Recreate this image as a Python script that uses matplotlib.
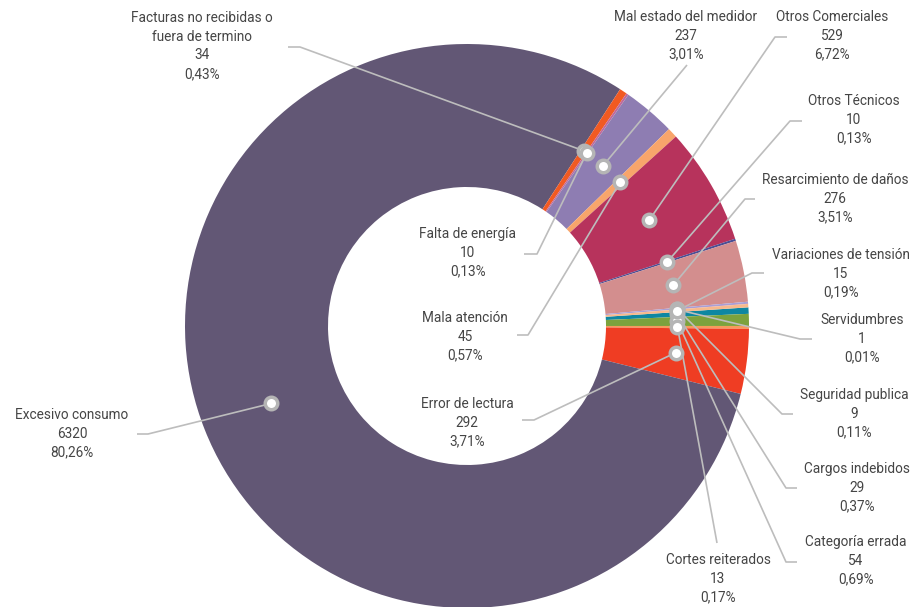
import numpy as np
import matplotlib
matplotlib.use("Agg")
import matplotlib.pyplot as plt

# datos (orden del grafico, sentido horario)
categorias = ["Cargos indebidos", "Categoría errada", "Cortes reiterados", "Error de lectura",
              "Excesivo consumo", "Facturas no recibidas o\nfuera de termino", "Falta de energía",
              "Mal estado del medidor", "Mala atención", "Otros Comerciales", "Otros Técnicos",
              "Resarcimiento de daños", "Seguridad publica", "Servidumbres", "Variaciones de tensión"]
cantidades = [29, 54, 13, 292, 6320, 34, 10, 237, 45, 529, 10, 276, 9, 1, 15]
porcentajes = ["0,37%", "0,69%", "0,17%", "3,71%", "80,26%", "0,43%", "0,13%", "3,01%",
               "0,57%", "6,72%", "0,13%", "3,51%", "0,11%", "0,01%", "0,19%"]
colores = ["#0e87a2", "#7ca23d", "#f79a5c", "#ef3d23", "#625775", "#f15a22", "#c06a9a",
           "#8e7db2", "#f8a56b", "#b7335c", "#4b4e94", "#d38e8e", "#a99fd6", "#e07070", "#f7b98c"]

# posicion de etiquetas (en pixeles, y hacia abajo): centro x, y primera linea,
# extremo de la linea junto al texto, codo
etiquetas = [
    (857, 469, (797, 488), (786, 488)),
    (856, 542, (797, 562), (786, 562)),
    (718, 560, (717, 543), (717, 543)),
    (467, 404, (522, 420), (534, 420)),
    (72, 415, (137, 434), (148, 434)),
    (202, 18, (288, 47), (300, 47)),
    (468, 234, (524, 254), (537, 254)),
    (686, 17, (687, 65), (687, 65)),
    (465, 318, (517, 335), (528, 335)),
    (832, 17, (787, 37), (775, 37)),
    (854, 101, (802, 121), (790, 121)),
    (835, 180, (755, 199), (745, 199)),
    (854, 395, (793, 414), (782, 414)),
    (862, 320, (812, 339), (800, 339)),
    (841, 255, (764, 273), (752, 273)),
]

W, H = 912, 607
cx, cy, R = 467, 326, 282
ancho = 143

fig = plt.figure(figsize=(W / 100, H / 100), dpi=100)
ax = fig.add_axes([0, 0, 1, 1])

wedges, _ = ax.pie(cantidades, colors=colores, startangle=3.8, counterclock=False,
                   radius=R, center=(cx, H - cy), frame=True,
                   wedgeprops=dict(width=ancho, linewidth=0))
ax.set_xlim(0, W)
ax.set_ylim(0, H)
ax.set_aspect("equal")
ax.axis("off")

r_punto = R - ancho / 2
for w, cat, n, p, (tx, ty, fin, codo) in zip(wedges, categorias, cantidades, porcentajes, etiquetas):
    ang = np.deg2rad((w.theta1 + w.theta2) / 2)
    px = cx + r_punto * np.cos(ang)
    py = (H - cy) + r_punto * np.sin(ang)
    ax.plot([fin[0], codo[0], px], [H - fin[1], H - codo[1], py],
            color="#bdbdbd", lw=1.2, zorder=3, solid_capstyle="butt")
    ax.plot(px, py, "o", ms=9, mfc="white", mec="#b5b5b5", mew=2.5, zorder=4)
    lineas = cat.split("\n") + [str(n), p]
    for i, t in enumerate(lineas):
        ax.text(tx, H - (ty + i * 18.6), t, ha="center", va="center",
                fontsize=9.8, color="#454545", family="Roboto", fontweight="normal")

fig.savefig("out.png", dpi=100)
